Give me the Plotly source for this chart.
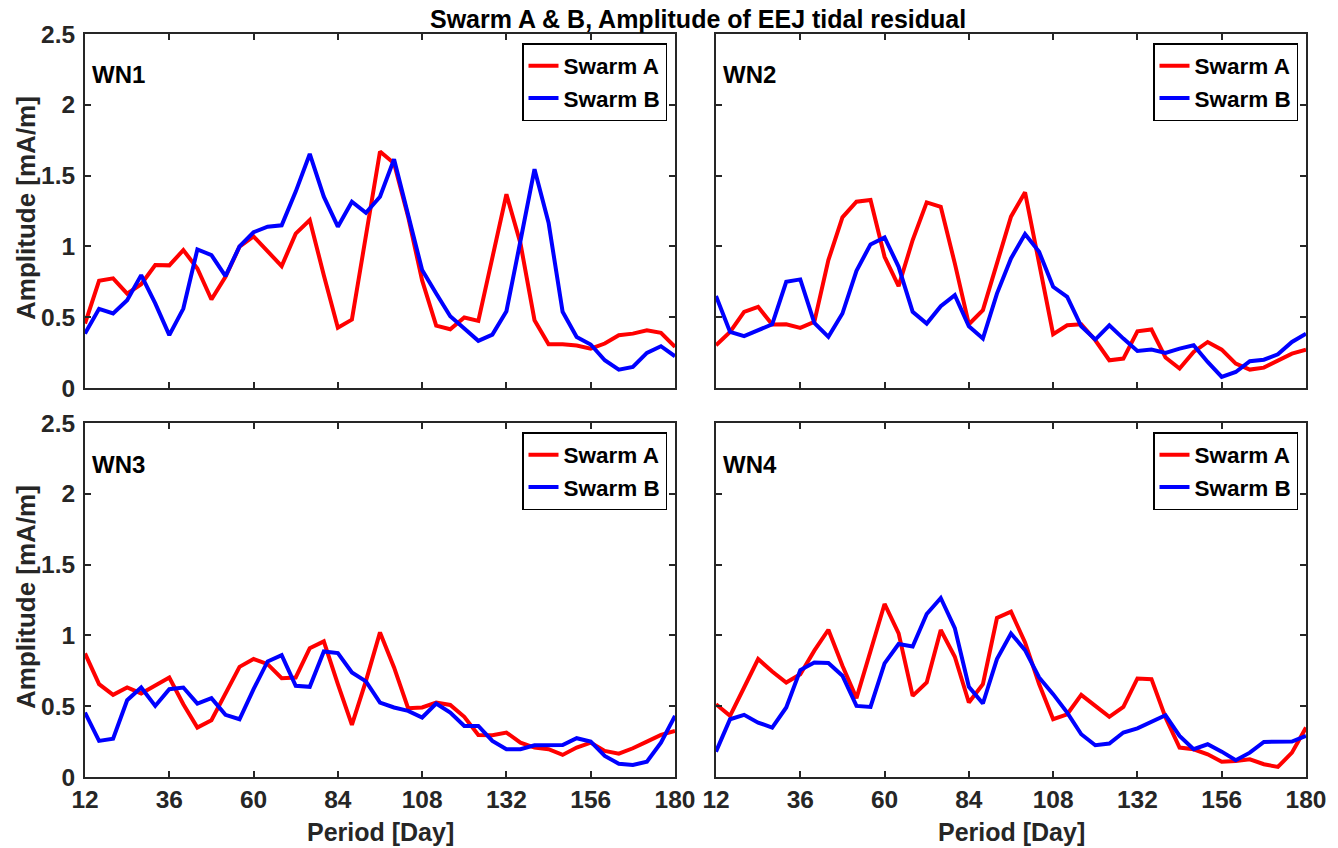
import plotly.graph_objects as go

W, H = 1338, 848

period = [12, 16, 20, 24, 28, 32, 36, 40, 44, 48, 52, 56, 60, 64, 68, 72, 76, 80, 84, 88,
          92, 96, 100, 104, 108, 112, 116, 120, 124, 128, 132, 136, 140, 144, 148, 152,
          156, 160, 164, 168, 172, 176, 180]

x_ticks = [12, 36, 60, 84, 108, 132, 156, 180]
y_ticks = [0, 0.5, 1, 1.5, 2, 2.5]
y_tick_labels = ["0", "0.5", "1", "1.5", "2", "2.5"]

panel_names = ["WN1", "WN2", "WN3", "WN4"]
series_names = ["Swarm A", "Swarm B"]

wn1_a = [0.455, 0.757, 0.774, 0.667, 0.733, 0.868, 0.866, 0.974, 0.844, 0.625, 0.785, 0.998,
         1.07, 0.962, 0.861, 1.09, 1.186, 0.797, 0.425, 0.483, 1.08, 1.67, 1.587, 1.21, 0.76,
         0.44, 0.415, 0.498, 0.474, 0.927, 1.368, 1.02, 0.479, 0.309, 0.309, 0.30, 0.278,
         0.314, 0.373, 0.384, 0.408, 0.39, 0.29]
wn1_b = [0.384, 0.559, 0.526, 0.62, 0.797, 0.597, 0.373, 0.561, 0.979, 0.939, 0.79, 1.0,
         1.10, 1.139, 1.149, 1.387, 1.653, 1.351, 1.139, 1.316, 1.238, 1.351, 1.615, 1.21,
         0.833, 0.667, 0.507, 0.42, 0.333, 0.377, 0.542, 1.04, 1.545, 1.167, 0.538, 0.36,
         0.307, 0.196, 0.13, 0.149, 0.248, 0.295, 0.224]
wn2_a = [0.302, 0.396, 0.538, 0.573, 0.448, 0.45, 0.425, 0.467, 0.903, 1.205, 1.316, 1.328,
         0.927, 0.719, 1.045, 1.311, 1.28, 0.88, 0.45, 0.55, 0.88, 1.21, 1.382, 0.88, 0.38,
         0.443, 0.45, 0.337, 0.196, 0.208, 0.40, 0.413, 0.215, 0.137, 0.255, 0.325, 0.271,
         0.172, 0.13, 0.144, 0.196, 0.243, 0.271]
wn2_b = [0.649, 0.396, 0.366, 0.408, 0.45, 0.75, 0.767, 0.46, 0.361, 0.526, 0.828, 1.014,
         1.064, 0.856, 0.538, 0.455, 0.578, 0.656, 0.436, 0.349, 0.667, 0.915, 1.087, 0.962,
         0.715, 0.644, 0.436, 0.342, 0.443, 0.349, 0.262, 0.271, 0.248, 0.278, 0.302, 0.184,
         0.078, 0.113, 0.189, 0.20, 0.238, 0.325, 0.384]
wn3_a = [0.873, 0.656, 0.58, 0.632, 0.59, 0.644, 0.703, 0.514, 0.349, 0.401, 0.585, 0.778,
         0.833, 0.797, 0.698, 0.703, 0.91, 0.958, 0.656, 0.368, 0.679, 1.021, 0.774, 0.486,
         0.491, 0.526, 0.509, 0.425, 0.297, 0.295, 0.314, 0.243, 0.208, 0.196, 0.156, 0.208,
         0.243, 0.184, 0.165, 0.203, 0.25, 0.297, 0.325]
wn3_b = [0.455, 0.255, 0.271, 0.542, 0.632, 0.502, 0.62, 0.632, 0.519, 0.557, 0.439, 0.408,
         0.62, 0.816, 0.861, 0.644, 0.637, 0.887, 0.875, 0.738, 0.675, 0.526, 0.491, 0.467,
         0.42, 0.519, 0.455, 0.361, 0.361, 0.255, 0.196, 0.196, 0.224, 0.226, 0.226, 0.274,
         0.25, 0.149, 0.094, 0.085, 0.108, 0.243, 0.432]
wn4_a = [0.514, 0.432, 0.632, 0.833, 0.745, 0.667, 0.726, 0.892, 1.04, 0.785, 0.557, 0.896,
         1.222, 1.014, 0.573, 0.667, 1.038, 0.849, 0.526, 0.656, 1.123, 1.167, 0.95, 0.656,
         0.408, 0.443, 0.58, 0.502, 0.425, 0.495, 0.696, 0.691, 0.42, 0.208, 0.196, 0.16,
         0.108, 0.113, 0.125, 0.09, 0.071, 0.172, 0.349]
wn4_b = [0.179, 0.408, 0.439, 0.384, 0.349, 0.491, 0.755, 0.809, 0.805, 0.715, 0.502, 0.495,
         0.802, 0.939, 0.922, 1.151, 1.264, 1.052, 0.637, 0.519, 0.833, 1.014, 0.896, 0.703,
         0.585, 0.455, 0.302, 0.224, 0.236, 0.314, 0.344, 0.392, 0.436, 0.29, 0.196, 0.231,
         0.179, 0.118, 0.172, 0.248, 0.25, 0.25, 0.29]

panels = [(wn1_a, wn1_b), (wn2_a, wn2_b), (wn3_a, wn3_b), (wn4_a, wn4_b)]

FONT = "Liberation Sans, Arial, sans-serif"
AXC = "#262626"
colors = ["#ff0000", "#0000ff"]

# panel pixel boxes (left, right, top, bottom)
cols = [(85, 675), (716, 1306)]
rows = [(34, 388), (423, 777)]

def px_x(p):
    return p / W

def px_y(p):
    return 1 - p / H

fig = go.Figure()
layout = dict(
    width=W, height=H,
    margin=dict(l=0, r=0, t=0, b=0, autoexpand=False),
    paper_bgcolor="white", plot_bgcolor="white",
    font=dict(family=FONT, size=22, color="black", weight="bold"),
    annotations=[],
)

for k in range(4):
    r, c = divmod(k, 2)
    xl, xr = cols[c]
    yt, yb = rows[r]
    sfx = "" if k == 0 else str(k + 1)
    xa = "x" + sfx
    ya = "y" + sfx
    leg = "legend" + sfx
    for s in range(2):
        fig.add_trace(go.Scatter(
            x=period, y=panels[k][s], mode="lines", name=series_names[s],
            line=dict(color=colors[s], width=4),
            xaxis=xa, yaxis=ya, legend=leg, showlegend=True,
        ))
    layout["xaxis" + sfx] = dict(
        domain=[px_x(xl), px_x(xr)], anchor=ya, range=[12, 180], automargin=False,
        tickvals=x_ticks, ticktext=[str(v) for v in x_ticks],
        showticklabels=(r == 1), ticks="inside", ticklen=6, tickwidth=1.5,
        tickcolor=AXC, showline=True, linecolor=AXC, linewidth=2, mirror="ticks",
        showgrid=False, zeroline=False,
        tickfont=dict(family=FONT, size=24.5, color="#262626", weight="bold"),
    )
    layout["yaxis" + sfx] = dict(
        domain=[px_y(yb), px_y(yt)], anchor=xa, range=[0, 2.5], automargin=False,
        tickvals=y_ticks, ticktext=y_tick_labels, ticklabelstandoff=3,
        showticklabels=(c == 0), ticks="inside", ticklen=6, tickwidth=1.5,
        tickcolor=AXC, showline=True, linecolor=AXC, linewidth=2, mirror="ticks",
        showgrid=False, zeroline=False,
        tickfont=dict(family=FONT, size=24.5, color="#262626", weight="bold"),
    )
    layout[leg] = dict(
        x=px_x(xr - 8), y=px_y(yt + 9), xanchor="right", yanchor="top",
        xref="paper", yref="paper",
        bgcolor="white", bordercolor="black", borderwidth=1.5,
        font=dict(family=FONT, size=22.5, color="black", weight="bold"),
        tracegroupgap=0, itemwidth=30,
    )
    layout["annotations"].append(dict(
        text=panel_names[k], x=px_x(xl + 5), y=px_y(yt + 41),
        xref="paper", yref="paper", xanchor="left", yanchor="middle",
        showarrow=False, font=dict(family=FONT, size=24, color="black", weight="bold"),
    ))

# axis titles
for r in range(2):
    yt, yb = rows[r]
    layout["annotations"].append(dict(
        text="Amplitude [mA/m]", x=px_x(26), y=px_y((yt + yb) / 2 - 3),
        xref="paper", yref="paper", xanchor="center", yanchor="middle",
        textangle=-90, showarrow=False,
        font=dict(family=FONT, size=26, color="#262626", weight="bold"),
    ))
for c in range(2):
    xl, xr = cols[c]
    layout["annotations"].append(dict(
        text="Period [Day]", x=px_x((xl + xr) / 2), y=px_y(832),
        xref="paper", yref="paper", xanchor="center", yanchor="middle",
        showarrow=False,
        font=dict(family=FONT, size=25, color="#262626", weight="bold"),
    ))
layout["annotations"].append(dict(
    text="Swarm A & B, Amplitude of EEJ tidal residual", x=px_x(698), y=px_y(19),
    xref="paper", yref="paper", xanchor="center", yanchor="middle",
    showarrow=False,
    font=dict(family=FONT, size=25, color="black", weight="bold"),
))

fig.update_layout(**layout)
fig.write_html("out.html", include_plotlyjs=True, config={"displayModeBar": False},
               post_script="document.body.style.margin='0';document.body.style.overflow='hidden';")
